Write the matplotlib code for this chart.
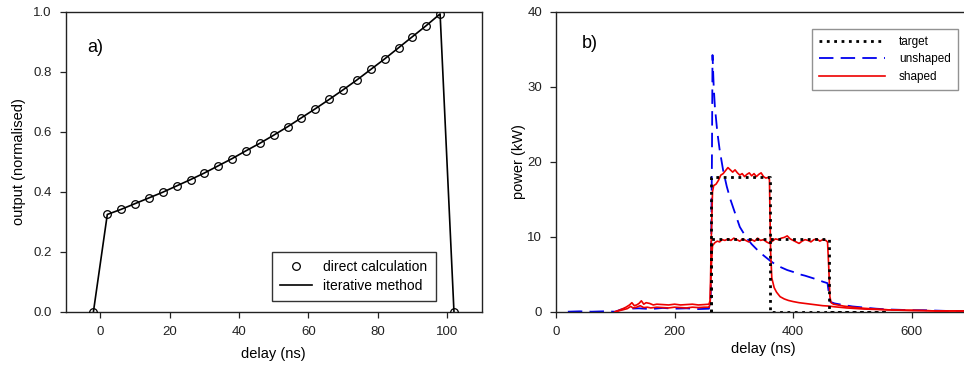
import matplotlib
matplotlib.use("Agg")
import matplotlib.pyplot as plt
from matplotlib.lines import Line2D

plt.rcParams['font.family'] = ['Liberation Sans', 'DejaVu Sans']

# ---------------- Panel a) data ----------------
delay_a = [-2, 2, 6, 10, 14, 18, 22, 26, 30, 34, 38, 42, 46, 50, 54, 58, 62, 66,
           70, 74, 78, 82, 86, 90, 94, 98, 102]
output_a = [0.0, 0.324, 0.341, 0.360, 0.379, 0.398, 0.419, 0.440, 0.462, 0.486,
            0.510, 0.536, 0.561, 0.588, 0.616, 0.646, 0.676, 0.707, 0.739, 0.772,
            0.807, 0.842, 0.879, 0.916, 0.953, 0.992, 0.0]
labels_a = ["direct calculation", "iterative method"]

# ---------------- Panel b) data ----------------
target1_x = [261, 261, 361, 361, 560]
target1_y = [0.0, 18.0, 18.0, 0.0, 0.0]
target2_x = [261, 261, 461, 461, 560]
target2_y = [0.0, 9.7, 9.7, 0.0, 0.0]

unshaped_x = [20, 40, 60, 80, 100, 110, 120, 140, 160, 180, 200, 220, 240, 258, 261,
              263, 264, 266, 268, 272, 276, 282, 288, 294, 300, 310, 320, 330, 340,
              350, 361, 370, 380, 390, 400, 410, 420, 430, 440, 450, 458, 461, 463,
              470, 484, 500, 520, 540, 560, 580, 600, 620, 640, 660, 690]
unshaped_y = [0.0, 0.05, 0.0, 0.05, 0.0, 0.3, 0.4, 0.45, 0.35, 0.5, 0.4, 0.45, 0.35,
              0.4, 2.0, 20.0, 34.2, 30.0, 27.3, 24.0, 21.6, 18.8, 16.7, 15.0, 13.6,
              11.3, 10.0, 9.0, 8.2, 7.5, 6.8, 6.3, 5.9, 5.55, 5.3, 5.0, 4.8, 4.55,
              4.3, 4.0, 3.8, 2.0, 1.3, 1.1, 0.9, 0.7, 0.55, 0.4, 0.3, 0.25, 0.2, 0.2,
              0.15, 0.1, 0.1]

shaped1_x = [100, 110, 118, 124, 128, 132, 136, 140, 144, 148, 152, 158, 164, 170,
             180, 190, 200, 210, 220, 230, 240, 250, 258, 260, 262, 264, 266, 270,
             274, 278, 282, 286, 290, 294, 298, 302, 306, 310, 314, 318, 322, 326,
             330, 334, 338, 342, 346, 350, 354, 358, 360, 362, 364, 368, 372, 378,
             385, 392, 400, 410, 420, 430, 440, 450, 460, 470, 480, 490, 500, 520,
             540, 560, 580, 600, 620, 640, 660, 690]
shaped1_y = [0.0, 0.3, 0.6, 0.9, 1.2, 0.8, 0.9, 1.1, 1.45, 1.0, 1.2, 1.1, 0.9, 1.0,
             0.95, 0.9, 1.0, 0.9, 0.95, 1.0, 0.9, 0.95, 1.0, 1.5, 10.0, 16.0, 16.8,
             17.0, 17.5, 18.2, 18.4, 18.8, 19.2, 18.9, 18.6, 18.9, 18.5, 18.2, 18.4,
             18.0, 18.3, 18.5, 18.1, 18.4, 18.0, 18.3, 18.5, 18.0, 17.8, 17.9, 17.6,
             8.0, 4.5, 3.2, 2.6, 2.0, 1.7, 1.5, 1.35, 1.2, 1.1, 1.0, 0.9, 0.8, 0.75,
             0.65, 0.58, 0.5, 0.45, 0.35, 0.3, 0.25, 0.2, 0.2, 0.15, 0.1, 0.1, 0.1]

shaped2_x = [100, 110, 120, 126, 130, 136, 142, 148, 154, 160, 170, 180, 190, 200,
             210, 220, 230, 240, 250, 258, 260, 262, 264, 268, 272, 276, 280, 285,
             290, 295, 300, 305, 310, 315, 320, 325, 330, 335, 340, 345, 350, 355,
             360, 365, 370, 375, 380, 385, 390, 395, 400, 405, 410, 415, 420, 425,
             430, 435, 440, 445, 450, 455, 458, 460, 462, 464, 468, 475, 485, 500,
             520, 540, 560, 580, 600, 620, 640, 660, 690]
shaped2_y = [0.0, 0.2, 0.4, 0.7, 0.5, 0.6, 0.8, 0.55, 0.6, 0.5, 0.6, 0.55, 0.5, 0.6,
             0.55, 0.5, 0.6, 0.55, 0.6, 0.6, 1.0, 6.0, 8.8, 9.2, 9.4, 9.3, 9.6, 9.5,
             9.7, 9.5, 9.8, 9.6, 9.4, 9.7, 9.5, 9.3, 9.6, 9.4, 9.8, 9.5, 9.6, 9.3,
             9.1, 9.4, 9.7, 9.6, 9.8, 9.9, 10.1, 9.7, 9.5, 9.3, 9.1, 9.4, 9.6, 9.5,
             9.3, 9.6, 9.7, 9.4, 9.6, 9.5, 9.3, 6.0, 2.0, 1.2, 1.0, 0.9, 0.75, 0.6,
             0.45, 0.35, 0.25, 0.2, 0.15, 0.15, 0.1, 0.1, 0.1]
labels_b = ["target", "unshaped", "shaped"]

xticks_a = [0, 20, 40, 60, 80, 100]
yticks_a = [0.0, 0.2, 0.4, 0.6, 0.8, 1.0]
xticks_b = [0, 200, 400, 600]
yticks_b = [0, 10, 20, 30, 40]

W, H = 964, 370
fig = plt.figure(figsize=(W / 100, H / 100), dpi=100)

def frac(x0, y0, x1, y1):
    return [x0 / W, 1 - y1 / H, (x1 - x0) / W, (y1 - y0) / H]

axA = fig.add_axes(frac(65.7, 11.5, 481.7, 311.7))
axB = fig.add_axes(frac(556, 11.5, 971, 311.7))

tick_fs = 9.5
label_fs = 10.5

for ax in (axA, axB):
    for s in ax.spines.values():
        s.set_linewidth(1.0)
        s.set_color('#222222')
    ax.tick_params(direction='out', length=4, width=0.9, labelsize=tick_fs,
                   colors='#222222', pad=6)

# Panel a
axA.plot(delay_a, output_a, color='black', lw=1.2, label=labels_a[1], zorder=2)
axA.plot(delay_a, output_a, ls='none', marker='o', ms=5.5, mfc='none', mec='black',
         mew=0.9, label=labels_a[0], zorder=3)
axA.set_xlim(-10, 110)
axA.set_ylim(0, 1.0)
axA.set_xticks(xticks_a)
axA.set_yticks(yticks_a)
axA.set_yticklabels([f"{v:.1f}" for v in yticks_a])
axA.set_xlabel("delay (ns)", fontsize=label_fs, labelpad=7)
axA.set_ylabel("output (normalised)", fontsize=label_fs, labelpad=5)
axA.text(0.051, 0.879, "a)", transform=axA.transAxes, fontsize=13,
         ha='left', va='center')
hA = [Line2D([], [], ls='none', marker='o', ms=5.5, mfc='none', mec='black', mew=0.9),
      Line2D([], [], color='black', lw=1.2)]
legA = axA.legend(hA, labels_a, loc='upper left', bbox_to_anchor=(271.7 / W, 1 - 251.7 / H),
                  bbox_transform=fig.transFigure, borderaxespad=0, fontsize=10,
                  frameon=True, fancybox=False, handlelength=2.3, handletextpad=0.8,
                  borderpad=0.6, labelspacing=0.35)
legA.get_frame().set_edgecolor('black')
legA.get_frame().set_linewidth(1.0)

# Panel b
axB.plot(unshaped_x, unshaped_y, color='#0000ee', lw=1.3, dashes=(8, 4), zorder=2)
axB.plot(shaped1_x, shaped1_y, color='#ee0000', lw=1.2, zorder=3)
axB.plot(shaped2_x, shaped2_y, color='#ee0000', lw=1.2, zorder=3)
axB.plot(target1_x, target1_y, color='black', lw=2.0, ls=':', zorder=4)
axB.plot(target2_x, target2_y, color='black', lw=2.0, ls=':', zorder=4)
axB.set_xlim(0, 700)
axB.set_ylim(0, 40)
axB.set_xticks(xticks_b)
axB.set_yticks(yticks_b)
axB.spines['right'].set_visible(False)
axB.set_xlabel("delay (ns)", fontsize=label_fs, labelpad=3)
axB.set_ylabel("power (kW)", fontsize=label_fs, labelpad=1)
axB.text(0.062, 0.895, "b)", transform=axB.transAxes, fontsize=13,
         ha='left', va='center')
hB = [Line2D([], [], color='black', lw=2.0, ls=':'),
      Line2D([], [], color='#0000ee', lw=1.3, dashes=(8, 4)),
      Line2D([], [], color='#ee0000', lw=1.2)]
legB = axB.legend(hB, labels_b, loc='upper left', bbox_to_anchor=(811.7 / W, 1 - 29 / H),
                  bbox_transform=fig.transFigure, borderaxespad=0, fontsize=8.5,
                  frameon=True, fancybox=False, handlelength=5.6, handletextpad=1.2,
                  borderpad=0.6, labelspacing=0.45)
legB.get_frame().set_edgecolor('#777777')
legB.get_frame().set_linewidth(1.0)

fig.savefig("out.png", dpi=100)
